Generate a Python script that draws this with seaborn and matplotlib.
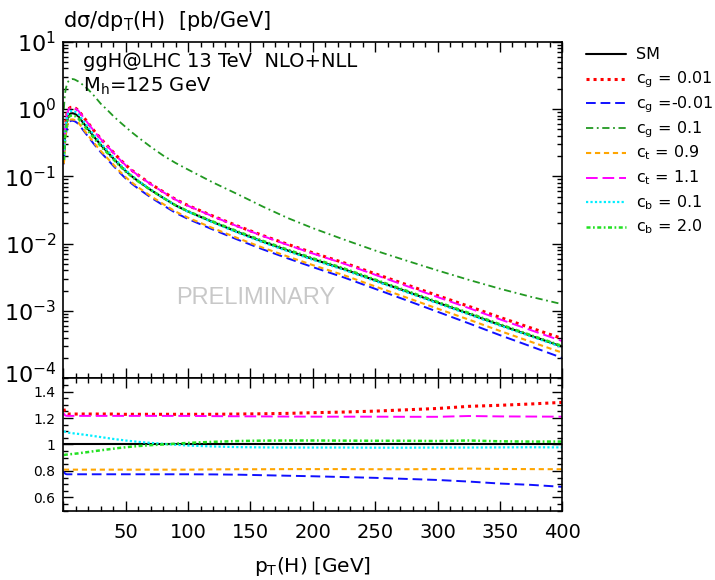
import numpy as np
import pandas as pd
import seaborn as sns
import matplotlib
matplotlib.use("Agg")
import matplotlib.pyplot as plt
import matplotlib.transforms as mtransforms
from matplotlib.ticker import MultipleLocator, LogLocator, FixedLocator, NullFormatter, FixedFormatter
from matplotlib.lines import Line2D

# ---------------- data ----------------
pt = [0.5, 1, 1.5, 2, 3, 4, 5, 6, 7.5, 9, 10, 12, 15, 20, 25, 30, 35, 40, 45, 50,
      55, 60, 70, 80, 90, 100, 120, 140, 160, 180, 200, 225, 250, 275, 300, 325,
      350, 375, 400]

sm = [0.19, 0.30, 0.42, 0.52, 0.69, 0.79, 0.84, 0.86, 0.865, 0.85, 0.83, 0.78,
      0.66, 0.50, 0.38, 0.295, 0.234, 0.186, 0.148, 0.120, 0.100, 0.085, 0.063,
      0.048, 0.037, 0.030, 0.0209, 0.0148, 0.0107, 0.0079, 0.0059, 0.00417,
      0.00285, 0.00195, 0.00133, 9.1e-4, 6.2e-4, 4.27e-4, 2.95e-4]

cg_01 = [1.0, 1.41, 1.74, 2.0, 2.34, 2.57, 2.69, 2.75, 2.79, 2.75, 2.69, 2.57,
         2.34, 1.95, 1.55, 1.20, 0.98, 0.79, 0.65, 0.54, 0.45, 0.38, 0.275, 0.204,
         0.158, 0.126, 0.081, 0.054, 0.0355, 0.024, 0.017, 0.0115, 0.0079, 0.0056,
         0.0040, 0.0029, 0.00214, 0.00162, 0.00126]

# ratios to SM (lower panel)
r_cg_001 = [1.27, 1.25, 1.24, 1.235, 1.232, 1.23, 1.23, 1.23, 1.23, 1.23, 1.23,
            1.23, 1.23, 1.23, 1.23, 1.23, 1.23, 1.23, 1.228, 1.228, 1.228, 1.228,
            1.228, 1.228, 1.228, 1.228, 1.228, 1.23, 1.232, 1.235, 1.24, 1.245,
            1.252, 1.262, 1.272, 1.288, 1.296, 1.306, 1.318]
r_cg_m001 = [0.795, 0.785, 0.78, 0.777, 0.775, 0.775, 0.775, 0.775, 0.775, 0.775,
             0.775, 0.775, 0.775, 0.775, 0.775, 0.775, 0.775, 0.775, 0.775, 0.775,
             0.775, 0.775, 0.775, 0.775, 0.775, 0.775, 0.774, 0.772, 0.768, 0.764,
             0.76, 0.754, 0.748, 0.74, 0.732, 0.72, 0.705, 0.695, 0.68]
r_ct_09 = [0.81, 0.81, 0.81, 0.81, 0.81, 0.81, 0.81, 0.81, 0.81, 0.81, 0.81, 0.81,
           0.81, 0.81, 0.81, 0.81, 0.81, 0.81, 0.81, 0.81, 0.81, 0.81, 0.81, 0.81,
           0.81, 0.81, 0.812, 0.813, 0.813, 0.814, 0.814, 0.814, 0.813, 0.813,
           0.814, 0.818, 0.815, 0.814, 0.813]
r_ct_11 = [1.235, 1.225, 1.22, 1.218, 1.216, 1.216, 1.216, 1.216, 1.216, 1.216,
           1.216, 1.216, 1.216, 1.216, 1.216, 1.216, 1.216, 1.216, 1.216, 1.216,
           1.216, 1.216, 1.216, 1.216, 1.216, 1.216, 1.214, 1.213, 1.212, 1.211,
           1.21, 1.21, 1.21, 1.209, 1.209, 1.215, 1.212, 1.211, 1.21]
r_cb_01 = [1.10, 1.098, 1.096, 1.095, 1.093, 1.09, 1.088, 1.087, 1.085, 1.083,
           1.082, 1.08, 1.076, 1.07, 1.063, 1.056, 1.049, 1.042, 1.036, 1.03,
           1.025, 1.02, 1.012, 1.005, 0.998, 0.992, 0.985, 0.98, 0.978, 0.977,
           0.977, 0.977, 0.976, 0.976, 0.977, 0.977, 0.978, 0.979, 0.978]
r_cb_20 = [0.92, 0.921, 0.922, 0.923, 0.924, 0.925, 0.926, 0.927, 0.928, 0.93,
           0.931, 0.933, 0.937, 0.943, 0.95, 0.956, 0.962, 0.968, 0.974, 0.979,
           0.984, 0.988, 0.995, 1.0, 1.006, 1.012, 1.02, 1.026, 1.029, 1.03, 1.03,
           1.029, 1.028, 1.028, 1.026, 1.03, 1.024, 1.022, 1.022]

labels = ["SM", r"$\mathregular{c_g}$ = 0.01", r"$\mathregular{c_g}$ =-0.01",
          r"$\mathregular{c_g}$ = 0.1", r"$\mathregular{c_t}$ = 0.9",
          r"$\mathregular{c_t}$ = 1.1", r"$\mathregular{c_b}$ = 0.1",
          r"$\mathregular{c_b}$ = 2.0"]
x_ticks = [50, 100, 150, 200, 250, 300, 350, 400]
ratio_ticks = [0.6, 0.8, 1.0, 1.2, 1.4]
ratio_ticklabels = ["0.6", "0.8", "1", "1.2", "1.4"]

# ---------------- style ----------------
sns.set_style("ticks")
plt.rcParams['font.family'] = ['DejaVu Sans']
plt.rcParams['mathtext.fontset'] = 'dejavusans'
plt.rcParams['axes.linewidth'] = 1.2
for k in ("text.color", "axes.labelcolor", "xtick.color", "ytick.color",
          "axes.edgecolor"):
    plt.rcParams[k] = "black"

sm_arr = np.array(sm)
series = [
    # label, top values, ratio values, color, linestyle, lw
    (labels[0], sm_arr, None, "black", "-", 1.5),
    (labels[1], sm_arr * np.array(r_cg_001), r_cg_001, "#ff0000", (0, (1.0, 1.3)), 2.2),
    (labels[2], sm_arr * np.array(r_cg_m001), r_cg_m001, "#1010ff", (0, (5, 2.5)), 1.4),
    (labels[3], np.array(cg_01), None, "#229922", (0, (4, 2, 1, 2)), 1.3),
    (labels[4], sm_arr * np.array(r_ct_09), r_ct_09, "#ffa500", (0, (2.5, 1.8)), 1.5),
    (labels[5], sm_arr * np.array(r_ct_11), r_ct_11, "#ff00ff", (0, (6, 2.5)), 1.4),
    (labels[6], sm_arr * np.array(r_cb_01), r_cb_01, "#00eeff", (0, (1, 1)), 1.6),
    (labels[7], sm_arr * np.array(r_cb_20), r_cb_20, "#22e022", (0, (1.6, 1, 0.7, 1)), 1.8),
]

fig = plt.figure(figsize=(7.15, 5.8), dpi=100)
ax1 = fig.add_axes([0.0885, 0.3478, 0.6979, 0.5803])
ax2 = fig.add_axes([0.0885, 0.1195, 0.6979, 0.2283], sharex=ax1)

for lab, top, rat, col, ls, lw in series:
    sns.lineplot(x=pt, y=top, ax=ax1, color=col, linestyle=ls, linewidth=lw)

ax2.axhline(1.0, color="black", lw=1.5)
for lab, top, rat, col, ls, lw in series:
    if rat is not None:
        sns.lineplot(x=pt, y=rat, ax=ax2, color=col, linestyle=ls, linewidth=lw)

# ---- main panel axes
ax1.set_yscale("log")
ax1.set_ylim(1e-4, 10)
ax1.set_xlim(0, 400)
ax1.yaxis.set_major_locator(LogLocator(base=10, numticks=10))
ax1.yaxis.set_minor_locator(LogLocator(base=10, subs=np.arange(2, 10), numticks=50))
ax1.yaxis.set_minor_formatter(NullFormatter())
ax1.set_xlabel("")
ax1.set_ylabel("")
ax1.tick_params(axis="x", labelbottom=False)
for ax in (ax1, ax2):
    ax.tick_params(which="both", direction="in", top=True, right=True, width=1.0)
    ax.tick_params(which="major", length=7)
    ax.tick_params(which="minor", length=3.5)
    ax.xaxis.set_major_locator(FixedLocator([0] + x_ticks))
    ax.xaxis.set_minor_locator(MultipleLocator(10))
ax1.tick_params(axis="y", labelsize=16, pad=5)

# ---- ratio panel axes
ax2.set_ylim(0.5, 1.5)
ax2.yaxis.set_major_locator(FixedLocator(ratio_ticks))
ax2.yaxis.set_major_formatter(FixedFormatter(ratio_ticklabels))
ax2.yaxis.set_minor_locator(MultipleLocator(0.05))
ax2.tick_params(axis="y", labelsize=10, pad=6)
ax2.tick_params(axis="x", labelsize=14, pad=9)
ax2.xaxis.set_major_locator(FixedLocator([0] + x_ticks))
ax2.xaxis.set_major_formatter(FixedFormatter([""] + [str(v) for v in x_ticks]))
ax2.set_xlim(0, 400)
ax2.set_ylabel("")
ax2.set_xlabel(r"p$_\mathregular{T}$(H) [GeV]", fontsize=14.5, labelpad=9)

# ---- texts
fig.text(63.3 / 715, 1 - 26.7 / 580, r"dσ/dp$_\mathregular{T}$(H)  [pb/GeV]",
         ha="left", va="baseline", fontsize=15)
ax1.text(0.040, 0.9257, "ggH@LHC 13 TeV  NLO+NLL", transform=ax1.transAxes,
         ha="left", va="baseline", fontsize=14)
ax1.text(0.040, 0.8515, r"M$_\mathregular{h}$=125 GeV", transform=ax1.transAxes,
         ha="left", va="baseline", fontsize=14)
ax1.text(0.2259, 0.2207, "PRELIMINARY", transform=ax1.transAxes, ha="left",
         va="baseline", fontsize=17, color="#c8c8c8", family=["Liberation Sans"])

# ---- legend (drawn in figure pixels, evenly spaced rows like the reference)
W, H = 715.0, 580.0
for i, (lab, top, rat, col, ls, lw) in enumerate(series):
    yrow = 54 + 24.7 * i
    fig.add_artist(Line2D([586 / W, 626 / W], [1 - yrow / H, 1 - yrow / H],
                          transform=fig.transFigure, color=col, linestyle=ls,
                          linewidth=lw))
    fig.text(636 / W, 1 - (yrow + 4.8) / H, lab, ha="left", va="baseline",
             fontsize=11.5)

# nudge the lowest log label up a little so it does not touch the "1.4" label
fig.canvas.draw()
for tick in ax1.yaxis.get_major_ticks():
    if np.isclose(tick.get_loc(), 1e-4):
        tick.label1.set_transform(tick.label1.get_transform() +
                                  mtransforms.ScaledTranslation(0, 4 / 72,
                                                                fig.dpi_scale_trans))

fig.savefig("out.png", dpi=100)
